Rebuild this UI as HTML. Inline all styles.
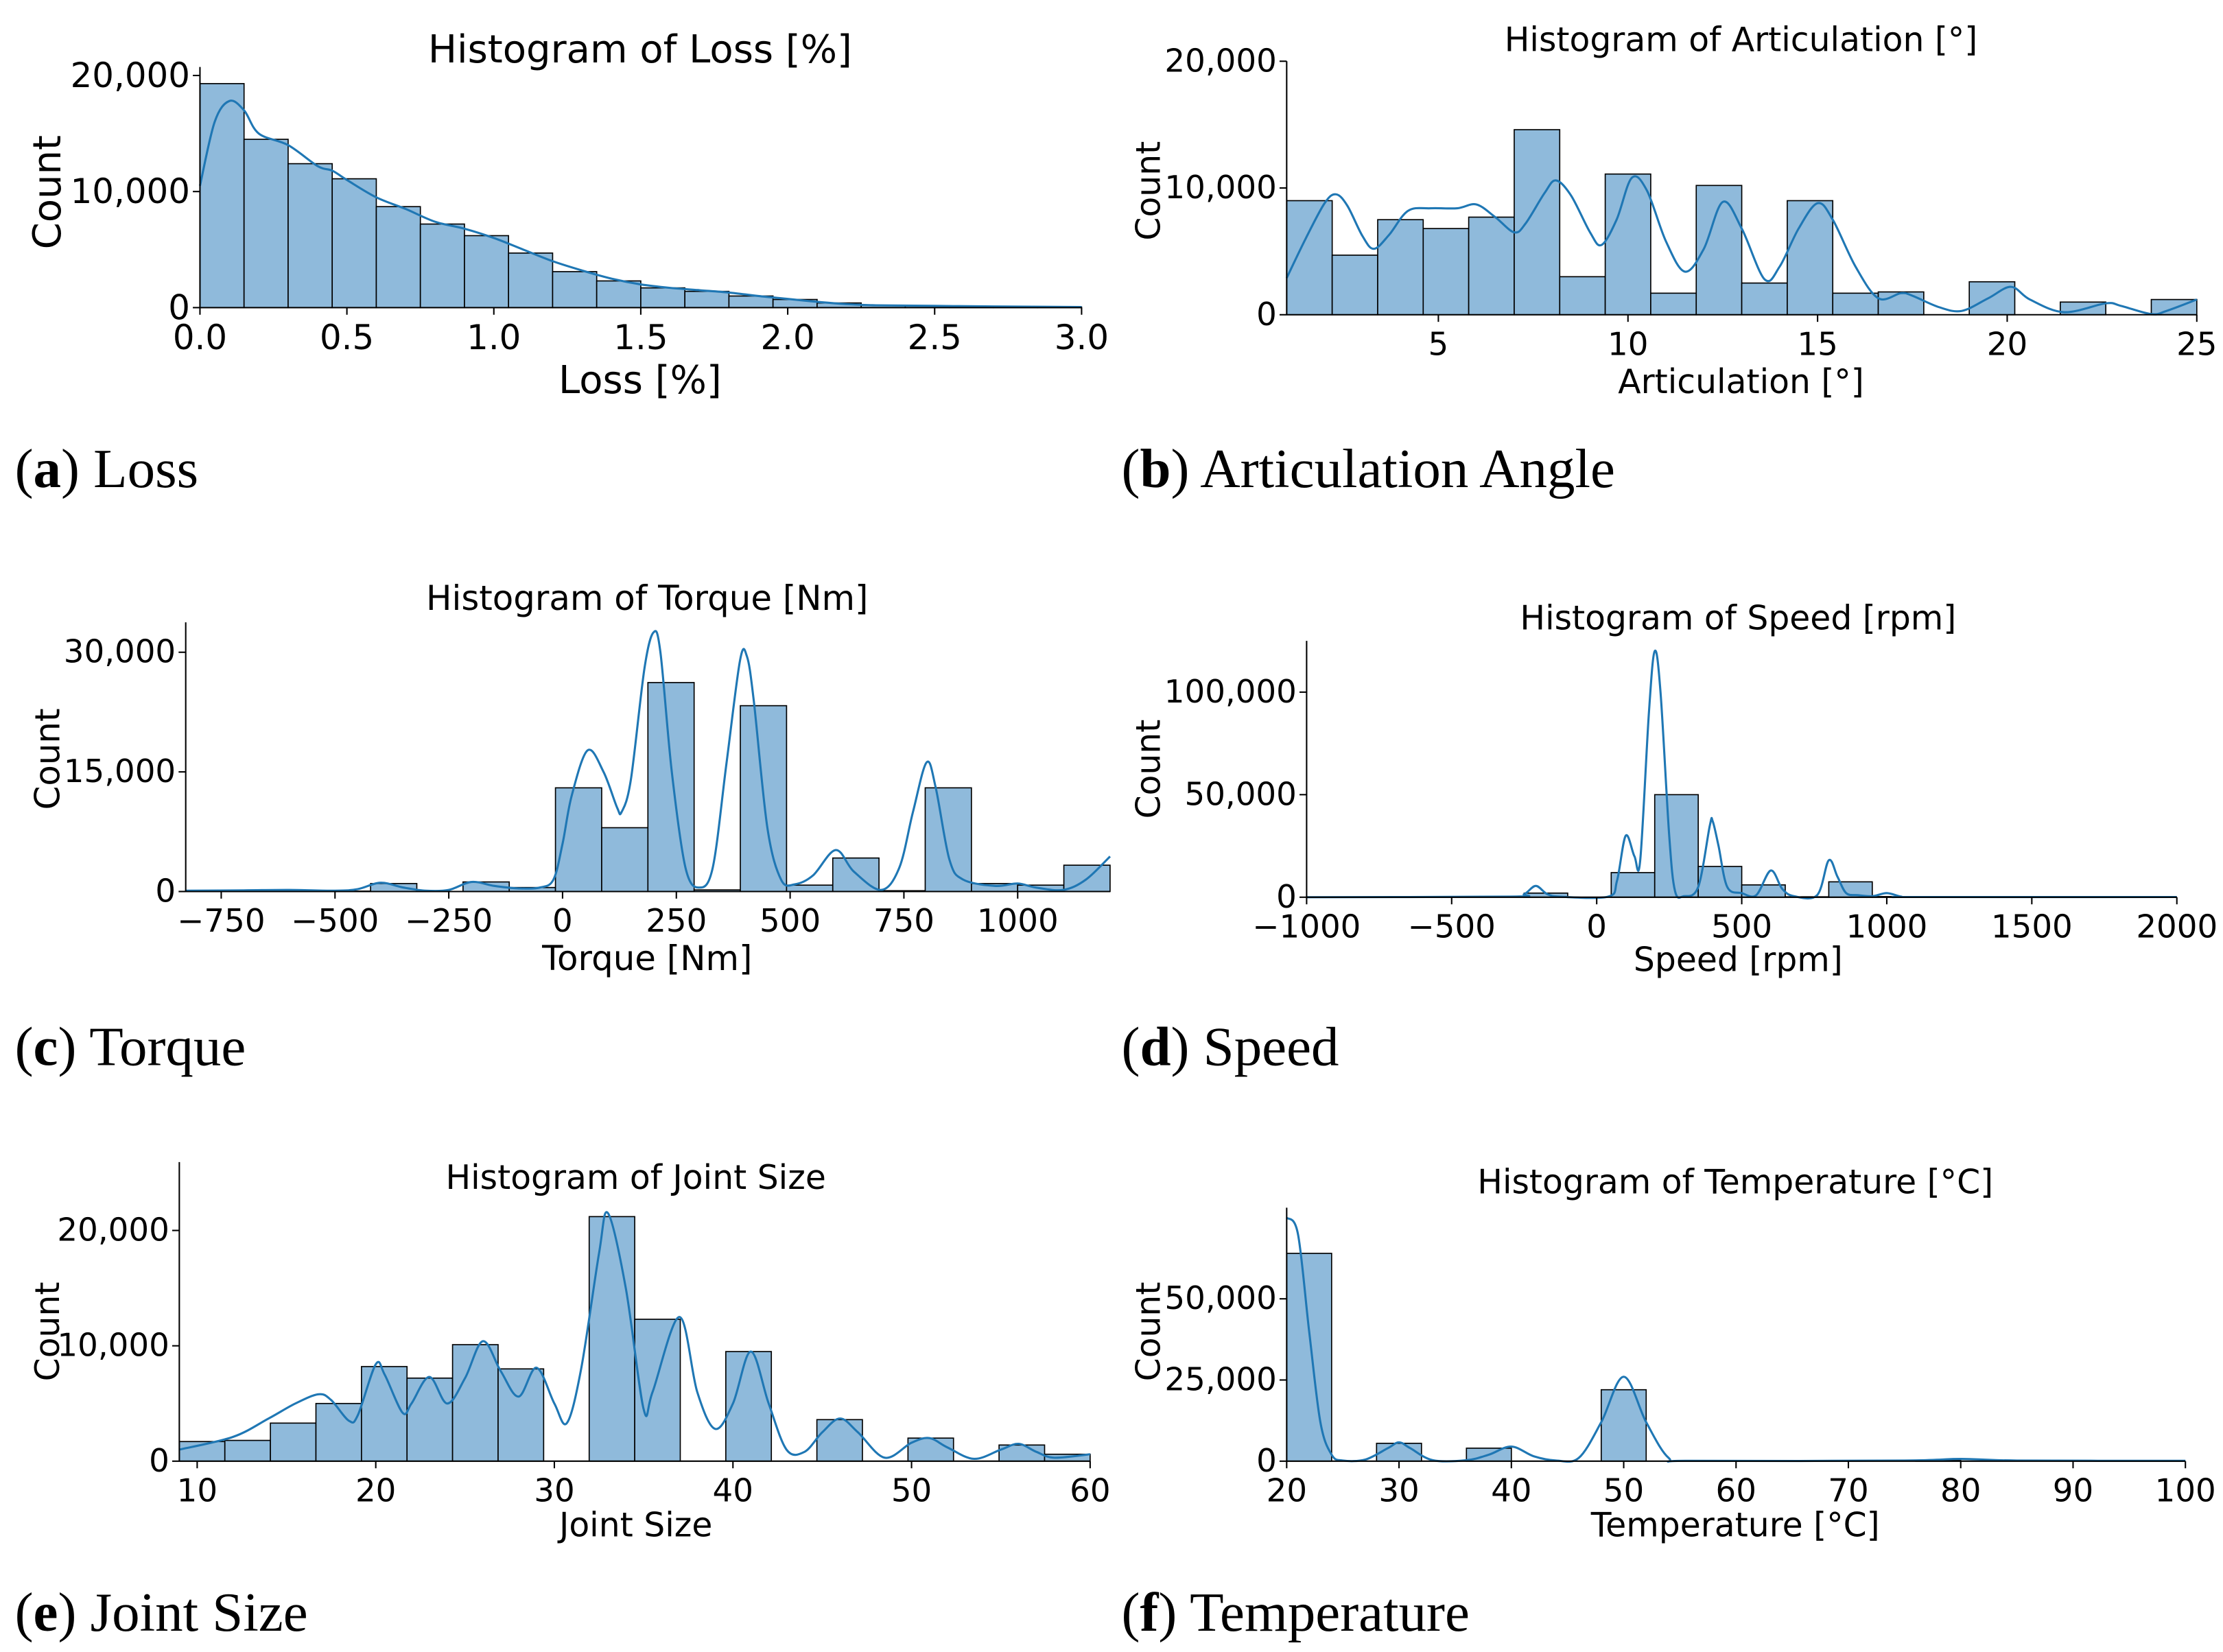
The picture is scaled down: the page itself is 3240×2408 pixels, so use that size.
<!DOCTYPE html>
<html><head><meta charset="utf-8"><style>
html,body{margin:0;padding:0;background:#fff;}
svg{display:block;}
text{font-family:"DejaVu Sans","Liberation Sans",sans-serif;fill:#000;}
.cap{font-family:"Liberation Serif",serif;}
</style></head><body>
<svg id="fig" width="3240" height="2408" viewBox="0 0 1560 1160" xmlns="http://www.w3.org/2000/svg"></svg>
<script>
// ---- Panel (a) Loss ----
const lossBins = [19300,14500,12400,11100,8700,7200,6200,4700,3100,2300,1700,1400,1000,700,400,200,150,100,80,50];
const lossKdeX = [0,0.05,0.1,0.15,0.2,0.3,0.4,0.45,0.5,0.6,0.7,0.8,0.9,1.0,1.1,1.2,1.3,1.4,1.5,1.6,1.7,1.8,1.9,2.0,2.1,2.2,2.3,2.5,2.7,3.0];
const lossKdeY = [10500,16000,17800,17000,15000,14000,12200,11800,11000,9500,8500,7400,6800,6000,5000,4000,3200,2500,2000,1700,1500,1300,1000,750,500,300,200,150,100,50];
const lossXTicks = [0,0.5,1.0,1.5,2.0,2.5,3.0];
const lossXTickLabels = ["0.0","0.5","1.0","1.5","2.0","2.5","3.0"];
const lossYTicks = [0,10000,20000];
const lossYTickLabels = ["0","10,000","20,000"];
// ---- Panel (b) Articulation ----
const artBins = [9000,4700,7500,6800,7700,14600,3000,11100,1700,10200,2500,9000,1700,1800,0,2600,0,1000,0,1200];
const artKdeX = [1,1.5,2,2.3,2.6,3,3.3,3.7,4.2,4.8,5.5,6,6.5,7,7.3,7.8,8.1,8.5,9,9.3,9.7,10.1,10.5,11,11.5,12,12.5,13,13.6,14,14.5,15,15.4,16,16.6,17.2,17.5,18.2,18.8,19.5,20.1,20.6,21.5,22.6,23,23.8,24.2,25];
const artKdeY = [2900,6000,8800,9500,8600,6200,5200,6300,8200,8400,8400,8700,7700,6500,7200,9600,10600,9400,6500,5500,7500,10800,9800,5800,3400,5200,8900,6800,2800,3800,6800,8800,7500,3800,1300,1700,1500,600,300,1300,2200,1200,200,900,700,50,300,1200];
const artXTicks = [5,10,15,20,25];
const artXTickLabels = ["5","10","15","20","25"];
const artYTicks = [0,10000,20000];
const artYTickLabels = ["0","10,000","20,000"];
// ---- Panel (c) Torque ----
const torqueBins = [100,50,50,50,1000,0,1200,500,13000,8000,26200,200,23300,800,4200,100,13000,1000,800,3300];
const torqueKdeX = [-828,-700,-600,-500,-450,-400,-350,-300,-250,-200,-150,-100,-50,-20,0,20,55,90,120,130,150,180,200,215,240,270,300,330,360,390,405,420,450,480,510,550,600,640,700,740,770,800,820,850,880,950,1000,1040,1100,1150,1203];
const torqueKdeY = [100,150,200,100,300,1100,500,100,200,1200,700,400,500,1500,6000,12000,17700,15000,10500,10000,14000,28000,32500,30000,15000,3000,500,3000,16000,29000,29500,24000,8000,1500,900,2000,5200,2500,200,3000,10000,16200,13000,4000,1500,700,1000,500,200,1500,4400];
const torqueXTicks = [-750,-500,-250,0,250,500,750,1000];
const torqueXTickLabels = ["\u2212750","\u2212500","\u2212250","0","250","500","750","1000"];
const torqueYTicks = [0,15000,30000];
const torqueYTickLabels = ["0","15,000","30,000"];
// ---- Panel (d) Speed ----
const speedBins = [0,0,0,0,0,2000,0,12000,50000,15000,6000,200,7500,300,0,0,0,0,0,0];
const speedKdeX = [-1000,-300,-250,-210,-170,-120,40,70,100,130,150,180,200,220,250,270,300,350,390,400,420,450,500,550,600,640,680,760,800,830,860,900,950,1000,1050,1100,2000];
const speedKdeY = [0,300,1500,5500,1500,200,300,8000,30000,20000,18000,90000,120000,100000,30000,3000,500,5000,35000,37000,25000,5000,2000,1000,13000,4000,500,1000,18000,10000,2000,1000,500,2000,300,100,100];
const speedXTicks = [-1000,-500,0,500,1000,1500,2000];
const speedXTickLabels = ["\u22121000","\u2212500","0","500","1000","1500","2000"];
const speedYTicks = [0,50000,100000];
const speedYTickLabels = ["0","50,000","100,000"];
// ---- Panel (e) Joint Size ----
const jointBins = [1700,1800,3300,5000,8200,7200,10100,8000,0,21200,12300,0,9500,0,3600,0,2000,0,1400,600];
const jointKdeX = [9,12,14,15.5,16.8,17.5,18.5,19,20,20.5,21.5,22,23,24,25,26,27,28,29,30,30.7,31.5,32.5,33,34,35,35.5,37,38,39,40,41,42,43,44,45,46,47,48.5,50,51,52,53.5,55,56,57,58,60];
const jointKdeY = [1000,2100,3700,5000,5800,5300,3500,4000,8400,7500,4200,5000,7300,5000,7200,10400,7800,5600,8100,5000,3300,8000,18000,21500,15000,4500,6000,12500,6000,2800,5000,9500,5000,1000,800,2500,3700,2500,300,1600,2000,1200,200,1000,1500,800,300,600];
const jointXTicks = [10,20,30,40,50,60];
const jointXTickLabels = ["10","20","30","40","50","60"];
const jointYTicks = [0,10000,20000];
const jointYTickLabels = ["0","10,000","20,000"];
// ---- Panel (f) Temperature ----
const tempBins = [64000,0,5500,0,4000,0,0,22000,0,0,0,0,0,0,200,0,0,0,0,0];
const tempKdeX = [20,21,22,23,24,25,27,29,30,31,33,36,38,40,42,44,46,48,50,52,54,56,75,80,85,100];
const tempKdeY = [75000,70000,40000,12000,2000,200,500,4000,5800,4000,300,300,2000,4500,1500,200,1000,12000,26000,12000,1000,100,200,700,200,100];
const tempXTicks = [20,30,40,50,60,70,80,90,100];
const tempXTickLabels = ["20","30","40","50","60","70","80","90","100"];
const tempYTicks = [0,25000,50000];
const tempYTickLabels = ["0","25,000","50,000"];

const NS = "http://www.w3.org/2000/svg";
const fig = document.getElementById("fig");
function mk(tag, attrs, parent){
  const e = document.createElementNS(NS, tag);
  for (const k in attrs) e.setAttribute(k, attrs[k]);
  (parent||fig).appendChild(e);
  return e;
}
function txt(parent, x, y, s, size, anchor, extra){
  const t = mk("text", Object.assign({x:x, y:y, "font-size":size, "text-anchor":anchor||"middle", "dominant-baseline":"central"}, extra||{}), parent);
  t.textContent = s;
  return t;
}
function spline(pts){
  let d = "M" + pts[0][0].toFixed(2) + "," + pts[0][1].toFixed(2);
  for (let i=0;i<pts.length-1;i++){
    const p0 = pts[Math.max(0,i-1)], p1 = pts[i], p2 = pts[i+1], p3 = pts[Math.min(pts.length-1,i+2)];
    const c1x = p1[0]+(p2[0]-p0[0])/6, c1y = p1[1]+(p2[1]-p0[1])/6;
    const c2x = p2[0]-(p3[0]-p1[0])/6, c2y = p2[1]-(p3[1]-p1[1])/6;
    d += " C"+c1x.toFixed(2)+","+c1y.toFixed(2)+" "+c2x.toFixed(2)+","+c2y.toFixed(2)+" "+p2[0].toFixed(2)+","+p2[1].toFixed(2);
  }
  return d;
}

function panel(cfg){
  const g = mk("g", {});
  
  
  const sx = v => cfg.x0 + (v - cfg.d0)/(cfg.d1 - cfg.d0)*(cfg.x1 - cfg.x0);
  const sy = v => cfg.y0 - v/cfg.yUnit*cfg.yPx;
  const n = cfg.bins.length;
  const bw = (cfg.binMax - cfg.binMin)/n;
  const bg = mk("g", {}, g);
  
  
  cfg.bins.forEach((v,i)=>{
    const xa = sx(cfg.binMin + i*bw), xb = sx(cfg.binMin + (i+1)*bw);
    const r = mk("rect", {x:xa, y:sy(v), width:xb-xa, height:Math.max(0,cfg.y0-sy(v)), fill:"#8fbadb", stroke:"#000", "stroke-width":0.8}, bg);
    
    
  });
  const pts = cfg.kx.map((x,i)=>[sx(x), sy(cfg.ky[i])]);
  const kp = mk("path", {d:spline(pts), fill:"none", stroke:"#1f77b4", "stroke-width":1.5, "stroke-linejoin":"round"}, g);
  
  
  const ya = mk("line", {x1:cfg.x0, y1:cfg.top, x2:cfg.x0, y2:cfg.y0, stroke:"#000", "stroke-width":1}, g);
  
  
  const xa = mk("line", {x1:cfg.x0, y1:cfg.y0, x2:cfg.x1, y2:cfg.y0, stroke:"#000", "stroke-width":1}, g);
  
  
  cfg.xt.forEach((v,i)=>{
    const x = sx(v);
    mk("line", {x1:x, y1:cfg.y0, x2:x, y2:cfg.y0+5, stroke:"#000", "stroke-width":1}, g);
    const t = txt(g, x, cfg.y0+21, cfg.xtl[i], cfg.tickFs);
    
    
  });
  cfg.yt.forEach((v,i)=>{
    const y = sy(v);
    mk("line", {x1:cfg.x0-5, y1:y, x2:cfg.x0, y2:y, stroke:"#000", "stroke-width":1}, g);
    const t = txt(g, cfg.x0-7, y, cfg.ytl[i], cfg.tickFs, "end");
    
    
  });
  const ti = txt(g, cfg.tx, cfg.ty, cfg.title, cfg.titleFs);
  
  
  const xl = txt(g, cfg.tx, cfg.xly, cfg.xlabel, cfg.labelFs);
  
  
  const yl = txt(g, cfg.ylx, cfg.yly, "Count", cfg.labelFs, "middle", {transform:"rotate(-90 "+cfg.ylx+" "+cfg.yly+")"});
  
  
  const cap = mk("text", {x:cfg.cx, y:cfg.cy, "font-size":39, class:"cap"}, g);
  
  
  const s1 = mk("tspan", {}, cap); s1.textContent = "(";
  const s2 = mk("tspan", {"font-weight":"bold"}, cap); s2.textContent = cfg.letter;
  const s3 = mk("tspan", {}, cap); s3.textContent = ") " + cfg.caption;
}

panel({name:"loss-histogram", bins:lossBins, binMin:0, binMax:3, kx:lossKdeX, ky:lossKdeY, xt:lossXTicks, xtl:lossXTickLabels, yt:lossYTicks, ytl:lossYTickLabels,
  x0:140, x1:759, d0:0, d1:3, y0:216, yUnit:20000, yPx:163, top:47, tickFs:24, titleFs:27, labelFs:27,
  title:"Histogram of Loss [%]", tx:449, ty:35, xlabel:"Loss [%]", xly:267, ylx:33, yly:135, cx:10, cy:342, letter:"a", caption:"Loss"});
panel({name:"articulation-histogram", bins:artBins, binMin:1, binMax:25, kx:artKdeX, ky:artKdeY, xt:artXTicks, xtl:artXTickLabels, yt:artYTicks, ytl:artYTickLabels,
  x0:903, x1:1542, d0:1, d1:25, y0:221, yUnit:10000, yPx:89, top:43, tickFs:22.5, titleFs:23.5, labelFs:23.5,
  title:"Histogram of Articulation [\u00b0]", tx:1222, ty:28, xlabel:"Articulation [\u00b0]", xly:268, ylx:806, yly:134, cx:787, cy:342, letter:"b", caption:"Articulation Angle"});
panel({name:"torque-histogram", bins:torqueBins, binMin:-828, binMax:1203, kx:torqueKdeX, ky:torqueKdeY, xt:torqueXTicks, xtl:torqueXTickLabels, yt:torqueYTicks, ytl:torqueYTickLabels,
  x0:130, x1:779, d0:-828, d1:1203, y0:626, yUnit:15000, yPx:84, top:437, tickFs:22.5, titleFs:24, labelFs:24,
  title:"Histogram of Torque [Nm]", tx:454, ty:420, xlabel:"Torque [Nm]", xly:673, ylx:33, yly:533, cx:10, cy:748, letter:"c", caption:"Torque"});
panel({name:"speed-histogram", bins:speedBins, binMin:-1000, binMax:2000, kx:speedKdeX, ky:speedKdeY, xt:speedXTicks, xtl:speedXTickLabels, yt:speedYTicks, ytl:speedYTickLabels,
  x0:917, x1:1528, d0:-1000, d1:2000, y0:630, yUnit:50000, yPx:72, top:450, tickFs:22.5, titleFs:23.5, labelFs:23.5,
  title:"Histogram of Speed [rpm]", tx:1220, ty:434, xlabel:"Speed [rpm]", xly:674, ylx:806, yly:540, cx:787, cy:748, letter:"d", caption:"Speed"});
panel({name:"joint-size-histogram", bins:jointBins, binMin:9, binMax:60, kx:jointKdeX, ky:jointKdeY, xt:jointXTicks, xtl:jointXTickLabels, yt:jointYTicks, ytl:jointYTickLabels,
  x0:125.5, x1:765, d0:9, d1:60, y0:1026, yUnit:10000, yPx:81, top:816, tickFs:22.5, titleFs:23.5, labelFs:23.5,
  title:"Histogram of Joint Size", tx:446, ty:827, xlabel:"Joint Size", xly:1071, ylx:33, yly:935, cx:10, cy:1145, letter:"e", caption:"Joint Size"});
panel({name:"temperature-histogram", bins:tempBins, binMin:20, binMax:100, kx:tempKdeX, ky:tempKdeY, xt:tempXTicks, xtl:tempXTickLabels, yt:tempYTicks, ytl:tempYTickLabels,
  x0:903, x1:1534, d0:20, d1:100, y0:1026, yUnit:25000, yPx:57, top:848, tickFs:22.5, titleFs:23.5, labelFs:23.5,
  title:"Histogram of Temperature [\u00b0C]", tx:1218, ty:830, xlabel:"Temperature [\u00b0C]", xly:1071, ylx:806, yly:935, cx:787, cy:1145, letter:"f", caption:"Temperature"});
</script>
</body></html>
